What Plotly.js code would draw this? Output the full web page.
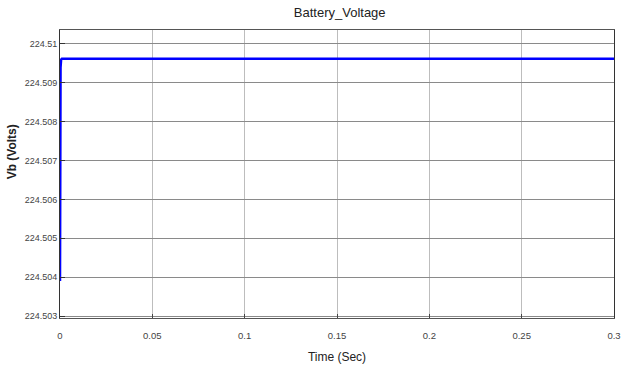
<!DOCTYPE html>
<html><head><meta charset="utf-8">
<script src="https://cdn.plot.ly/plotly-3.0.1.min.js"></script>
<style>html,body{margin:0;padding:0;background:#fff}#c{width:621px;height:377px}</style>
</head><body><div id="c"></div>
<script>
const timeSec = [0, 0.0001, 0.0003, 0.0006, 0.001, 0.3];
const voltage = [224.5039, 224.5082, 224.5094, 224.5096, 224.50962, 224.50962];
const xTicks = [0, 0.05, 0.1, 0.15, 0.2, 0.25, 0.3];
const xTickText = ['0', '0.05', '0.1', '0.15', '0.2', '0.25', '0.3'];
const yTicks = [224.503, 224.504, 224.505, 224.506, 224.507, 224.508, 224.509, 224.51];
const yTickText = ['224.503', '224.504', '224.505', '224.506', '224.507', '224.508', '224.509', '224.51'];

const fam = '"Liberation Sans", Arial, sans-serif';
Plotly.newPlot('c', [{
  x: timeSec, y: voltage, type: 'scatter', mode: 'lines',
  line: {color: '#0000ff', width: 2.5}, hoverinfo: 'skip'
}], {
  width: 621, height: 377,
  margin: {l: 60, r: 7, t: 30, b: 59},
  paper_bgcolor: '#fff', plot_bgcolor: '#fff',
  showlegend: false,
  title: {text: 'Battery_Voltage', x: 0.547, xanchor: 'center', y: 0.968, yanchor: 'middle',
          font: {family: fam, size: 13, color: '#222'}},
  xaxis: {
    range: [0, 0.3], tickvals: xTicks, ticktext: xTickText,
    showgrid: true, gridcolor: '#bdbdbd', gridwidth: 1,
    showline: true, linecolor: '#555', linewidth: 1, mirror: true,
    ticks: 'inside', ticklen: 4, tickcolor: '#444',
    zeroline: false, ticklabeloverflow: 'allow', ticklabelstandoff: 9,
    tickfont: {family: fam, size: 9.5, color: '#444'},
    title: {text: 'Time (Sec)', standoff: 12, font: {family: fam, size: 12, color: '#222'}}
  },
  yaxis: {
    range: [224.50295, 224.51036], tickvals: yTicks, ticktext: yTickText,
    showgrid: true, gridcolor: '#8a8a8a', gridwidth: 1,
    showline: true, linecolor: '#333', linewidth: 1, mirror: true,
    ticks: 'inside', ticklen: 5, tickcolor: '#333',
    zeroline: false, ticklabelstandoff: 0,
    tickfont: {family: fam, size: 9, color: '#444'}
  },
  annotations: [{
    text: '<b>Vb (Volts)</b>', xref: 'paper', yref: 'paper', x: -0.0862, y: 0.576,
    xanchor: 'center', yanchor: 'middle', textangle: -90, showarrow: false,
    font: {family: fam, size: 12, color: '#222'}
  }]
}, {staticPlot: true, displayModeBar: false});
</script></body></html>
